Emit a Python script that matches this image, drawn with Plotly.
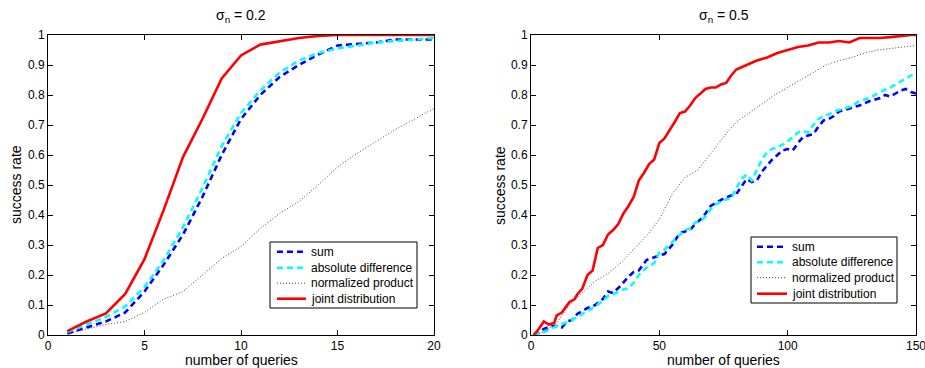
import plotly.graph_objects as go

W, H = 925, 368

# ---- Left panel (sigma_n = 0.2) ----
x_left = list(range(1, 21))
left_sum = [0.005, 0.025, 0.045, 0.075, 0.145, 0.235, 0.335, 0.46, 0.60, 0.72,
            0.80, 0.86, 0.90, 0.935, 0.965, 0.97, 0.975, 0.985, 0.985, 0.985]
left_absdiff = [0.01, 0.035, 0.06, 0.095, 0.16, 0.25, 0.36, 0.49, 0.63, 0.74,
                0.815, 0.875, 0.915, 0.94, 0.955, 0.965, 0.975, 0.98, 0.985, 0.99]
left_normprod = [0.005, 0.02, 0.035, 0.045, 0.075, 0.12, 0.145, 0.20, 0.255, 0.295,
                 0.355, 0.405, 0.445, 0.50, 0.56, 0.605, 0.645, 0.685, 0.72, 0.755]
left_joint = [0.013, 0.045, 0.072, 0.137, 0.253, 0.418, 0.594, 0.72, 0.855, 0.932,
              0.968, 0.98, 0.99, 0.997, 1.0, 1.0, 1.0, 1.0, 1.0, 1.0]

# ---- Right panel (sigma_n = 0.5) ----
x_r_sum = [1, 5, 8, 10, 12, 14, 16, 18, 20, 22, 25, 28, 30, 32, 35, 38, 40, 42, 45, 48,
           50, 52, 55, 58, 60, 62, 64, 66, 68, 70, 72, 75, 78, 80, 82, 84, 86, 88, 90, 92,
           94, 96, 98, 100, 102, 104, 106, 108, 110, 112, 114, 116, 118, 120, 124, 128,
           132, 136, 138, 140, 142, 144, 146, 148, 150]
right_sum = [0.0, 0.02, 0.03, 0.03, 0.025, 0.045, 0.05, 0.07, 0.08, 0.09, 0.10, 0.12, 0.145,
             0.14, 0.165, 0.195, 0.21, 0.215, 0.25, 0.26, 0.265, 0.27, 0.30, 0.34, 0.345,
             0.35, 0.37, 0.385, 0.405, 0.43, 0.44, 0.455, 0.465, 0.47, 0.495, 0.52, 0.51,
             0.515, 0.545, 0.565, 0.585, 0.60, 0.615, 0.62, 0.615, 0.64, 0.66, 0.665, 0.67,
             0.695, 0.715, 0.72, 0.73, 0.745, 0.755, 0.765, 0.78, 0.79, 0.80, 0.795, 0.805,
             0.815, 0.82, 0.81, 0.805]

x_r_abs = [1, 5, 10, 12, 15, 18, 20, 22, 25, 28, 30, 32, 35, 38, 40, 42, 45, 48, 50, 52,
           55, 58, 60, 62, 64, 66, 68, 70, 72, 75, 78, 80, 82, 84, 86, 88, 90, 92, 94, 96,
           98, 100, 102, 104, 106, 108, 110, 112, 114, 116, 118, 120, 124, 128, 132, 136,
           140, 144, 148, 150]
right_absdiff = [0.0, 0.01, 0.03, 0.035, 0.045, 0.06, 0.07, 0.08, 0.095, 0.115, 0.13, 0.135,
                 0.15, 0.155, 0.175, 0.20, 0.225, 0.24, 0.275, 0.285, 0.31, 0.335, 0.35,
                 0.355, 0.375, 0.38, 0.395, 0.42, 0.435, 0.45, 0.455, 0.49, 0.52, 0.535,
                 0.515, 0.55, 0.585, 0.61, 0.62, 0.625, 0.635, 0.645, 0.66, 0.675, 0.68,
                 0.675, 0.70, 0.72, 0.73, 0.735, 0.745, 0.75, 0.76, 0.78, 0.79, 0.81, 0.825,
                 0.845, 0.865, 0.87]

x_r_np = [1, 5, 10, 15, 20, 25, 30, 35, 40, 45, 50, 55, 60, 65, 70, 75, 80, 85, 90, 95,
          100, 105, 110, 115, 120, 125, 130, 135, 140, 145, 150]
right_normprod = [0.0, 0.01, 0.04, 0.10, 0.14, 0.18, 0.205, 0.24, 0.285, 0.33, 0.385, 0.47,
                  0.525, 0.55, 0.605, 0.66, 0.71, 0.74, 0.77, 0.80, 0.825, 0.85, 0.875,
                  0.90, 0.915, 0.925, 0.94, 0.95, 0.955, 0.96, 0.965]

x_r_joint = [1, 3, 5, 7, 9, 10, 12, 15, 17, 18, 20, 22, 24, 25, 26, 28, 30, 32, 34, 36,
             38, 40, 42, 44, 46, 48, 50, 52, 54, 56, 58, 60, 62, 64, 66, 68, 70, 72, 74,
             76, 78, 80, 84, 88, 92, 96, 100, 104, 108, 112, 116, 120, 124, 128, 132, 136,
             140, 144, 148, 150]
right_joint = [0.0, 0.02, 0.045, 0.035, 0.04, 0.065, 0.075, 0.11, 0.12, 0.135, 0.155, 0.20,
               0.215, 0.25, 0.29, 0.30, 0.335, 0.35, 0.37, 0.405, 0.43, 0.46, 0.515, 0.54,
               0.57, 0.585, 0.64, 0.655, 0.685, 0.71, 0.74, 0.745, 0.765, 0.79, 0.805, 0.82,
               0.825, 0.825, 0.835, 0.84, 0.865, 0.885, 0.90, 0.915, 0.925, 0.94, 0.95,
               0.96, 0.965, 0.975, 0.975, 0.98, 0.975, 0.99, 0.99, 0.99, 0.993, 0.997,
               1.0, 1.0]

names = ["sum", "absolute difference", "normalized product", "joint distribution"]
titles = ["σ<sub>n</sub> = 0.2", "σ<sub>n</sub> = 0.5"]
xlabel = "number of queries"
ylabel = "success rate"

styles = [
    dict(color="#0000ff", width=2.6, dash="6px,4px"),
    dict(color="#00ffff", width=2.6, dash="6px,4px"),
    dict(color="#444444", width=1.0, dash="1px,2px"),
    dict(color="#ff0000", width=2.6),
]

# plot-area geometry (pixels)
ML, MR, MT, MB = 48, 9, 35, 33
PW, PH = W - ML - MR, H - MT - MB


def px(xp):
    return (xp - ML) / PW


def py(yp):
    return (H - MB - yp) / PH


fig = go.Figure()
left_data = [(x_left, left_sum), (x_left, left_absdiff), (x_left, left_normprod), (x_left, left_joint)]
right_data = [(x_r_sum, right_sum), (x_r_abs, right_absdiff), (x_r_np, right_normprod), (x_r_joint, right_joint)]

for (xs, ys), nm, st in zip(left_data, names, styles):
    fig.add_trace(go.Scatter(x=xs, y=ys, mode="lines", name=nm, line=st,
                             xaxis="x", yaxis="y", showlegend=False))
for (xs, ys), nm, st in zip(right_data, names, styles):
    fig.add_trace(go.Scatter(x=xs, y=ys, mode="lines", name=nm, line=st,
                             xaxis="x2", yaxis="y2", showlegend=False))

FONT = "Liberation Sans, Arial, Helvetica, sans-serif"

axis_common = dict(showline=True, linecolor="black", linewidth=1, mirror="ticks",
                   ticks="inside", ticklen=5, tickcolor="black", showgrid=False,
                   zeroline=False, ticklabeloverflow="allow",
                   tickfont=dict(size=12, color="black", family=FONT))

fig.update_layout(
    width=W, height=H, margin=dict(l=ML, r=MR, t=MT, b=MB, autoexpand=False),
    paper_bgcolor="white", plot_bgcolor="white",
    font=dict(family=FONT, color="black"),
    xaxis=dict(domain=[0, px(434)], range=[0, 20], tickvals=[0, 5, 10, 15, 20],
               anchor="y", **axis_common),
    yaxis=dict(domain=[0, 1], range=[0, 1], dtick=0.1, anchor="x", **axis_common),
    xaxis2=dict(domain=[px(531), 1], range=[0, 150], tickvals=[0, 50, 100, 150],
                anchor="y2", **axis_common),
    yaxis2=dict(domain=[0, 1], range=[0, 1], dtick=0.1, anchor="x2", **axis_common),
    showlegend=False,
)

# titles and axis labels
ann = [
    dict(text=titles[0], x=px(241), y=py(16), size=14),
    dict(text=titles[1], x=px(723.5), y=py(16), size=14),
    dict(text=xlabel, x=px(241), y=py(360), size=14),
    dict(text=xlabel, x=px(723.5), y=py(360), size=14),
    dict(text=ylabel, x=px(16), y=py(185), size=14, textangle=-90),
    dict(text=ylabel, x=px(500), y=py(185), size=14, textangle=-90),
]
for a in ann:
    size = a.pop("size")
    fig.add_annotation(xref="paper", yref="paper", showarrow=False,
                       xanchor="center", yanchor="middle",
                       font=dict(size=size, color="black", family=FONT), **a)

# compact MATLAB-style legend boxes
legend_boxes = [
    dict(x0=270, x1=417, y0=242, y1=308, rows=[251.7, 267.7, 283.2, 298.7],
         lx0=277, lx1=306, tx=309),
    dict(x0=751, x1=897, y0=237, y1=303, rows=[246.7, 262.2, 277.7, 293.7],
         lx0=757, lx1=787, tx=790),
]
for lb in legend_boxes:
    fig.add_shape(type="rect", xref="paper", yref="paper",
                  x0=px(lb["x0"]), x1=px(lb["x1"]), y0=py(lb["y1"]), y1=py(lb["y0"]),
                  line=dict(color="black", width=1), fillcolor="white", layer="above")
    for ry, nm, st in zip(lb["rows"], names, styles):
        fig.add_shape(type="line", xref="paper", yref="paper",
                      x0=px(lb["lx0"]), x1=px(lb["lx1"]), y0=py(ry), y1=py(ry),
                      line=st, layer="above")
        fig.add_annotation(xref="paper", yref="paper", showarrow=False,
                           x=px(lb["tx"]), y=py(ry), xanchor="left", yanchor="middle",
                           text=nm, font=dict(size=12, color="black", family=FONT))

fig.write_html("out.html")
